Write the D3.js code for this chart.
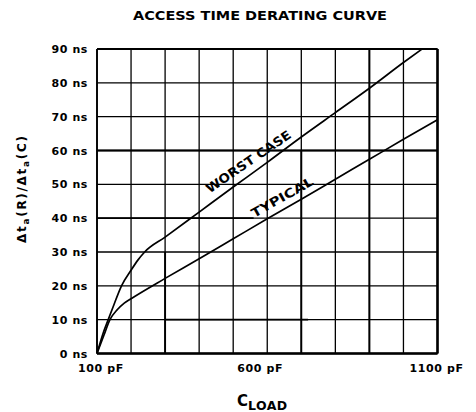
<!DOCTYPE html>
<html>
<head>
<meta charset="utf-8">
<script src="https://cdn.jsdelivr.net/npm/d3@7"></script>
<style>
  html, body { margin: 0; padding: 0; background: #fff; }
  svg { display: block; }
  text { font-family: "DejaVu Sans", "Liberation Sans", sans-serif; font-weight: bold; fill: #000; }
</style>
</head>
<body>
<svg id="chart" width="476" height="412"></svg>
<script>
// Load capacitance (pF) and access-time derating (ns) readings
const worstLoad = [100, 118, 133, 150, 172, 200, 220, 240, 300, 400, 500, 600, 700, 800, 900, 1000, 1055];
const worstNs   = [0, 6, 10, 14.5, 20, 24.6, 27.6, 30, 34.4, 41.8, 49.2, 56.5, 64, 71.2, 78.4, 86, 90];

const typicalLoad = [100, 120, 138, 160, 180, 200, 300, 400, 500, 600, 700, 800, 900, 1000, 1100];
const typicalNs   = [0, 5.3, 10, 13, 14.9, 16.2, 22.2, 28, 33.9, 39.8, 45.6, 51.5, 57.4, 63.3, 69.1];

const xGrid = d3.range(100, 1101, 100);
const yGrid = d3.range(0, 91, 10);
const xLabelTicks = [100, 600, 1100];
const xLabelText = ["100 pF", "600 pF", "1100 pF"];
const yLabelText = yGrid.map(v => v + " ns");

const svg = d3.select("#chart");

const x = d3.scaleLinear().domain([100, 1100]).range([97, 437.5]);
const y = d3.scaleLinear().domain([0, 90]).range([353.5, 49]);

// Title
svg.append("text")
  .attr("x", 133).attr("y", 19.5)
  .attr("font-size", 11.5)
  .attr("textLength", 254).attr("lengthAdjust", "spacingAndGlyphs")
  .text("ACCESS TIME DERATING CURVE");

// Grid
const grid = svg.append("g").attr("stroke", "#000").attr("fill", "none");
grid.selectAll("line.v").data(xGrid).join("line")
  .attr("x1", d => x(d)).attr("x2", d => x(d))
  .attr("y1", y(0)).attr("y2", y(90))
  .attr("stroke-width", 1.3);
grid.selectAll("line.h").data(yGrid).join("line")
  .attr("x1", x(100)).attr("x2", x(1100))
  .attr("y1", d => y(d)).attr("y2", d => y(d))
  .attr("stroke-width", 1.3);

// Heavier printed segments of the grid: [x0, y0, x1, y1] in chart units
const heavy = [
  [100, 60, 1100, 60],
  [100, 40, 560, 40],
  [300, 10, 720, 10],
  [300, 0, 300, 30],
  [700, 0, 700, 60],
  [900, 0, 900, 90]
];
grid.selectAll("line.heavy").data(heavy).join("line")
  .attr("x1", d => x(d[0])).attr("y1", d => y(d[1]))
  .attr("x2", d => x(d[2])).attr("y2", d => y(d[3]))
  .attr("stroke-width", 1.9);

// Frame
grid.append("line").attr("x1", x(100)).attr("x2", x(1100)).attr("y1", y(0)).attr("y2", y(0)).attr("stroke-width", 2.4);
grid.append("line").attr("x1", x(100)).attr("x2", x(1100)).attr("y1", y(90)).attr("y2", y(90)).attr("stroke-width", 2);
grid.append("line").attr("x1", x(100)).attr("x2", x(100)).attr("y1", y(0)).attr("y2", y(90)).attr("stroke-width", 1.8);
grid.append("line").attr("x1", x(1100)).attr("x2", x(1100)).attr("y1", y(0)).attr("y2", y(90)).attr("stroke-width", 2.6);

// Curves
const line = d3.line()
  .x(d => x(d[0])).y(d => y(d[1]))
  .curve(d3.curveMonotoneX);

svg.append("path")
  .datum(d3.zip(worstLoad, worstNs))
  .attr("d", line)
  .attr("fill", "none").attr("stroke", "#000").attr("stroke-width", 1.7);

svg.append("path")
  .datum(d3.zip(typicalLoad, typicalNs))
  .attr("d", line)
  .attr("fill", "none").attr("stroke", "#000").attr("stroke-width", 1.7);

// Curve labels, set along the lines
const worstAt = d3.scaleLinear().domain(worstLoad).range(worstNs);
const typAt = d3.scaleLinear().domain(typicalLoad).range(typicalNs);
function angleAt(fn, a, b) {
  return Math.atan2(y(fn(b)) - y(fn(a)), x(b) - x(a)) * 180 / Math.PI;
}

svg.append("text")
  .attr("transform", `translate(${x(552)},${y(worstAt(552)) - 9}) rotate(${angleAt(worstAt, 400, 700) + 2})`)
  .attr("text-anchor", "middle")
  .attr("font-size", 12.5)
  .attr("textLength", 100).attr("lengthAdjust", "spacingAndGlyphs")
  .text("WORST CASE");

svg.append("text")
  .attr("transform", `translate(${x(650)},${y(typAt(650)) - 8}) rotate(${angleAt(typAt, 500, 800) + 1})`)
  .attr("text-anchor", "middle")
  .attr("font-size", 12.5)
  .attr("textLength", 69).attr("lengthAdjust", "spacingAndGlyphs")
  .text("TYPICAL");

// Y tick labels
svg.selectAll("text.ylab").data(yGrid).join("text")
  .attr("x", 88).attr("y", d => y(d) + 4)
  .attr("text-anchor", "end")
  .attr("font-size", 11)
  .attr("letter-spacing", 0.6)
  .text((d, i) => yLabelText[i]);

// X tick labels
const xNudge = [4, -7, -1];
svg.selectAll("text.xlab").data(xLabelTicks).join("text")
  .attr("x", (d, i) => x(d) + xNudge[i]).attr("y", 372)
  .attr("text-anchor", "middle")
  .attr("font-size", 11)
  .attr("letter-spacing", 0.6)
  .text((d, i) => xLabelText[i]);

// X axis title: C with LOAD subscript
const xt = svg.append("text").attr("x", 237).attr("y", 406);
xt.append("tspan").attr("font-size", 15).text("C");
xt.append("tspan").attr("font-size", 12.5).attr("dy", 4).attr("letter-spacing", 0.4).text("LOAD");

// Y axis title: Δta(R)/Δta(C)
const yt = svg.append("text")
  .attr("transform", `translate(26,${243}) rotate(-90)`)
  .attr("font-size", 12)
  .attr("letter-spacing", 1.7);
yt.append("tspan").text("Δt");
yt.append("tspan").attr("font-size", 9).attr("dy", 3).text("a");
yt.append("tspan").attr("dy", -3).text("(R)/Δt");
yt.append("tspan").attr("font-size", 9).attr("dy", 3).text("a");
yt.append("tspan").attr("dy", -3).text("(C)");
</script>
</body>
</html>
